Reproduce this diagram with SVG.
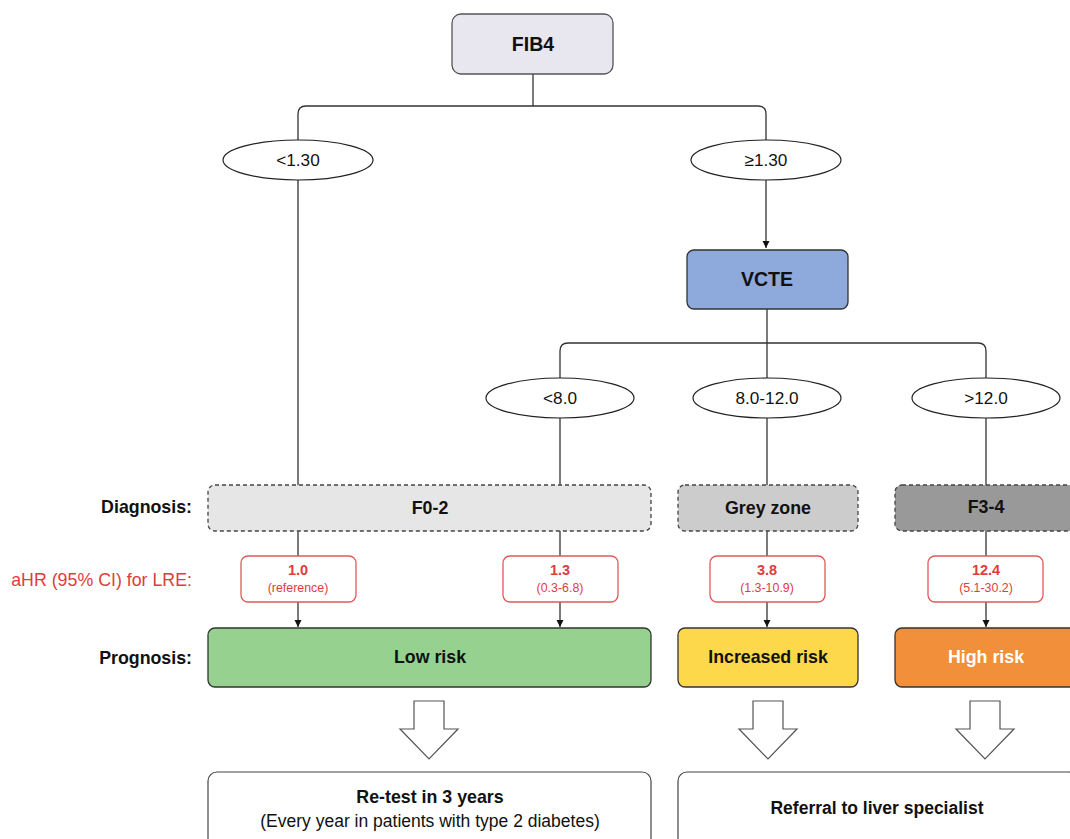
<svg xmlns="http://www.w3.org/2000/svg" width="1070" height="839" viewBox="0 0 1070 839">
<defs>
<style>
text{font-family:"Liberation Sans",Arial,sans-serif;text-anchor:middle;dominant-baseline:central;fill:#111}
.b{font-weight:bold}
.ln{fill:none;stroke:#333;stroke-width:1.3}
.ell{fill:#fff;stroke:#222;stroke-width:1.2}
.dg{stroke:#444;stroke-width:1.3;stroke-dasharray:4 3}
.hr{fill:#fff;stroke:#e05a5a;stroke-width:1.3}
.rt{fill:#e03c3c}
.pg{stroke:#333;stroke-width:1.3}
.blk{fill:#fff;stroke:#555;stroke-width:1.2}
.lab{text-anchor:end;font-weight:bold;font-size:17.8px}
.et{font-size:17.2px}
.nt{font-weight:bold;font-size:17.8px}
.v1{font-weight:bold;font-size:14.5px}
.v2{font-size:12.4px}
</style>
<marker id="ah" viewBox="0 0 10 10" refX="10" refY="5" markerWidth="7" markerHeight="9" markerUnits="userSpaceOnUse" orient="auto"><path d="M0,0L10,5L0,10z" fill="#111"/></marker>
</defs>
<rect width="1070" height="839" fill="#fff"/>
<g id="connectors">
<path class="ln" d="M533,74V106"/>
<path class="ln" d="M298,140V114Q298,106 306,106H758Q766,106 766,114V140"/>
<path class="ln" d="M766,180V248" marker-end="url(#ah)"/>
<path class="ln" d="M767,309V378"/>
<path class="ln" d="M560,378V351Q560,343 568,343H978Q986,343 986,351V378"/>
<path class="ln" d="M298,180V485"/>
<path class="ln" d="M560,418V485"/>
<path class="ln" d="M767,418V485"/>
<path class="ln" d="M986,418V485"/>
<path class="ln" d="M298,531V556M560,531V556M767,531V556M986,531V556"/>
<path class="ln" d="M298,602V627" marker-end="url(#ah)"/>
<path class="ln" d="M560,602V627" marker-end="url(#ah)"/>
<path class="ln" d="M767,602V627" marker-end="url(#ah)"/>
<path class="ln" d="M986,602V627" marker-end="url(#ah)"/>
</g>
<g id="fib4"><rect x="452" y="14" width="161" height="60" rx="9" fill="#e8e6ef" stroke="#555" stroke-width="1.3"/><text x="533" y="44" class="b" font-size="19.5">FIB4</text></g>
<g id="lt130"><ellipse cx="298" cy="160" rx="75" ry="20" class="ell"/><text x="298" y="160" class="et">&lt;1.30</text></g>
<g id="ge130"><ellipse cx="766" cy="160" rx="75" ry="20" class="ell"/><text x="766" y="160" class="et">≥1.30</text></g>
<g id="vcte"><rect x="687" y="250" width="161" height="59" rx="7" fill="#8ea9db" stroke="#333" stroke-width="1.3"/><text x="767" y="279" class="b" font-size="19.5">VCTE</text></g>
<g id="lt80"><ellipse cx="560" cy="398" rx="74" ry="20" class="ell"/><text x="560" y="398" class="et">&lt;8.0</text></g>
<g id="mid"><ellipse cx="767" cy="398" rx="74" ry="20" class="ell"/><text x="767" y="398" class="et">8.0-12.0</text></g>
<g id="gt12"><ellipse cx="986" cy="398" rx="74" ry="20" class="ell"/><text x="986" y="398" class="et">&gt;12.0</text></g>
<g id="labels">
<text x="192" y="507" class="lab">Diagnosis:</text>
<text x="192" y="580" class="lab rt" style="font-weight:normal">aHR (95% CI) for LRE:</text>
<text x="192" y="658" class="lab">Prognosis:</text>
</g>
<g id="f02"><rect x="208" y="485" width="443" height="46" rx="7" fill="#e6e6e6" class="dg"/><text x="430" y="508" class="nt">F0-2</text></g>
<g id="grey"><rect x="678" y="485" width="180" height="46" rx="7" fill="#cccccc" class="dg"/><text x="768" y="508" class="nt">Grey zone</text></g>
<g id="f34"><rect x="895" y="485" width="182" height="46" rx="7" fill="#999999" class="dg"/><text x="986" y="507" class="nt">F3-4</text></g>
<g id="hr1"><rect x="241" y="556" width="115" height="46" rx="7" class="hr"/><text x="298" y="570" class="v1 rt">1.0</text><text x="298" y="588" class="v2 rt">(reference)</text></g>
<g id="hr2"><rect x="503" y="556" width="115" height="46" rx="7" class="hr"/><text x="560" y="570" class="v1 rt">1.3</text><text x="560" y="588" class="v2 rt">(0.3-6.8)</text></g>
<g id="hr3"><rect x="710" y="556" width="115" height="46" rx="7" class="hr"/><text x="767" y="570" class="v1 rt">3.8</text><text x="767" y="588" class="v2 rt">(1.3-10.9)</text></g>
<g id="hr4"><rect x="928" y="556" width="115" height="46" rx="7" class="hr"/><text x="986" y="570" class="v1 rt">12.4</text><text x="986" y="588" class="v2 rt">(5.1-30.2)</text></g>
<g id="low"><rect x="208" y="628" width="443" height="59" rx="7" fill="#97d18f" class="pg"/><text x="430" y="657" class="nt">Low risk</text></g>
<g id="inc"><rect x="678" y="628" width="180" height="59" rx="7" fill="#fdd84a" class="pg"/><text x="768" y="657" class="nt">Increased risk</text></g>
<g id="high"><rect x="895" y="628" width="182" height="59" rx="7" fill="#f28f3b" class="pg"/><text x="986" y="657" class="nt" style="fill:#fff">High risk</text></g>
<g id="arrows">
<path class="blk" d="M414,701H444V729H458L429,759L400,729H414Z"/>
<path class="blk" d="M753,701H783V729H797L768,759L739,729H753Z"/>
<path class="blk" d="M970,701H1000V729H1014L985,759L956,729H970Z"/>
</g>
<g id="retest"><rect x="208" y="772" width="443" height="80" rx="9" fill="#fff" stroke="#444" stroke-width="1.2"/><text x="430" y="797" class="nt" font-size="17.5">Re-test in 3 years</text><text x="430" y="821" font-size="17.5">(Every year in patients with type 2 diabetes)</text></g>
<g id="referral"><rect x="678" y="772" width="400" height="80" rx="9" fill="#fff" stroke="#444" stroke-width="1.2"/><text x="877" y="808" class="nt" style="font-size:17.5px">Referral to liver specialist</text></g>
</svg>
